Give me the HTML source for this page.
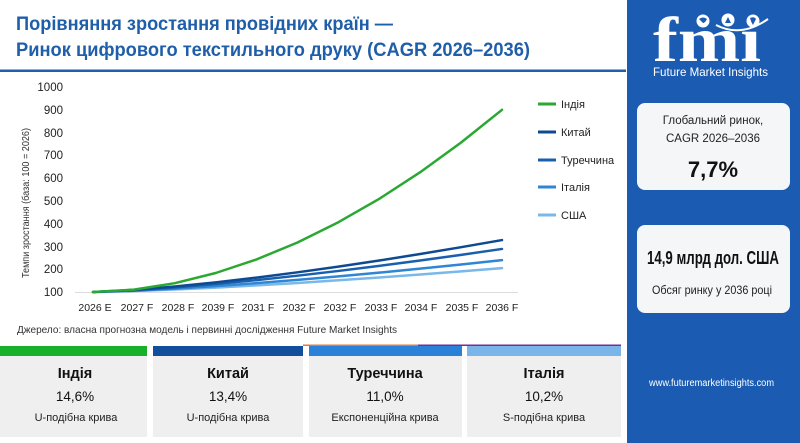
<!DOCTYPE html>
<html><head><meta charset="utf-8"><style>
html,body{margin:0;padding:0;background:#fff;}
svg{display:block;font-family:"Liberation Sans","DejaVu Sans",sans-serif;}
</style></head><body>
<svg width="800" height="443" viewBox="0 0 800 443" xmlns="http://www.w3.org/2000/svg">
<rect x="0" y="0" width="800" height="443" fill="#ffffff"/>
<!-- Title -->
<text x="16" y="30" font-size="19" font-weight="bold" fill="#1f5ea8" textLength="377" lengthAdjust="spacingAndGlyphs">Порівняння зростання провідних країн —</text>
<text x="16" y="56" font-size="19" font-weight="bold" fill="#1f5ea8" textLength="514" lengthAdjust="spacingAndGlyphs">Ринок цифрового текстильного друку (CAGR 2026–2036)</text>
<rect x="0" y="69.5" width="626" height="2.5" fill="#1f5ea8"/>

<!-- Y axis labels -->
<g font-size="11.5" fill="#222" text-anchor="end">
<text x="63" y="91">1000</text>
<text x="63" y="114">900</text>
<text x="63" y="137">800</text>
<text x="63" y="159">700</text>
<text x="63" y="182">600</text>
<text x="63" y="205">500</text>
<text x="63" y="228">400</text>
<text x="63" y="251">300</text>
<text x="63" y="273">200</text>
<text x="63" y="296">100</text>
</g>
<text transform="translate(29,203) rotate(-90)" font-size="10" fill="#333" text-anchor="middle" textLength="150" lengthAdjust="spacingAndGlyphs">Темпи зростання (база: 100 = 2026)</text>
<line x1="75" y1="292.5" x2="518" y2="292.5" stroke="#dcdcdc" stroke-width="1"/>

<!-- X labels -->
<g font-size="10.5" fill="#222" text-anchor="middle">
<text x="95" y="311">2026 E</text>
<text x="137" y="311">2027 F</text>
<text x="178" y="311">2028 F</text>
<text x="218" y="311">2039 F</text>
<text x="258" y="311">2031 F</text>
<text x="299" y="311">2032 F</text>
<text x="340" y="311">2032 F</text>
<text x="381" y="311">2033 F</text>
<text x="421" y="311">2034 F</text>
<text x="462" y="311">2035 F</text>
<text x="502" y="311">2036 F</text>
</g>

<!-- Series -->
<g fill="none" stroke-width="2.5" stroke-linejoin="round" stroke-linecap="round">
<polyline stroke="#7ab8ea" points="93,292 133.9,291.05 174.8,289.49 215.7,287.57 256.6,285.37 297.5,282.94 338.4,280.30 379.3,277.48 420.2,274.50 461.1,271.36 502,268.08"/>
<polyline stroke="#2f86d4" points="93,292 133.9,290.73 174.8,288.65 215.7,286.09 256.6,283.16 297.5,279.92 338.4,276.40 379.3,272.65 420.2,268.67 461.1,264.48 502,260.11"/>
<polyline stroke="#1a5fae" points="93,292 133.9,290.29 174.8,287.48 215.7,284.02 256.6,280.07 297.5,275.69 338.4,270.94 379.3,265.87 420.2,260.50 461.1,254.85 502,248.95"/>
<polyline stroke="#0e4a92" points="93,292 133.9,289.93 174.8,286.54 215.7,282.38 256.6,277.60 297.5,272.32 338.4,266.60 379.3,260.48 420.2,254.00 461.1,247.18 502,240.06"/>
<polyline stroke="#2aa832" points="93,292 133.9,289.6 174.8,283.2 215.7,273.0 256.6,259.4 297.5,242.5 338.4,222.2 379.3,198.8 420.2,172.2 461.1,142.5 502,109.8"/>
</g>

<!-- Legend -->
<g stroke-width="3">
<line x1="538" y1="104" x2="556" y2="104" stroke="#2aa832"/>
<line x1="538" y1="132" x2="556" y2="132" stroke="#0e4a92"/>
<line x1="538" y1="160" x2="556" y2="160" stroke="#1a5fae"/>
<line x1="538" y1="187" x2="556" y2="187" stroke="#2f86d4"/>
<line x1="538" y1="215" x2="556" y2="215" stroke="#7ab8ea"/>
</g>
<g font-size="11" fill="#222">
<text x="561" y="108">Індія</text>
<text x="561" y="136">Китай</text>
<text x="561" y="164">Туреччина</text>
<text x="561" y="191">Італія</text>
<text x="561" y="219">США</text>
</g>

<!-- Source -->
<text x="17" y="333" font-size="10.5" fill="#333" textLength="380" lengthAdjust="spacingAndGlyphs">Джерело: власна прогнозна модель і первинні дослідження Future Market Insights</text>

<!-- Cards -->
<rect x="303" y="344.5" width="115" height="1.5" fill="#e07a3a"/>
<rect x="418" y="344.5" width="203" height="1.5" fill="#7a2a9a"/>
<rect x="0" y="346" width="147" height="10" fill="#17b02a"/>
<rect x="153" y="346" width="150" height="10" fill="#0f4f9c"/>
<rect x="309" y="346" width="153" height="10" fill="#2a82d8"/>
<rect x="467" y="346" width="154" height="10" fill="#7ab5ea"/>
<g fill="#efefef">
<rect x="0" y="356" width="147" height="81"/>
<rect x="153" y="356" width="150" height="81"/>
<rect x="309" y="356" width="153" height="81"/>
<rect x="467" y="356" width="154" height="81"/>
</g>
<g text-anchor="middle" fill="#111">
<g font-size="14.5" font-weight="bold">
<text x="75" y="378">Індія</text>
<text x="228" y="378">Китай</text>
<text x="385" y="378">Туреччина</text>
<text x="544" y="378">Італія</text>
</g>
<g font-size="13.5">
<text x="75" y="401">14,6%</text>
<text x="228" y="401">13,4%</text>
<text x="385" y="401">11,0%</text>
<text x="544" y="401">10,2%</text>
</g>
<g font-size="11" fill="#222">
<text x="76" y="421">U-подібна крива</text>
<text x="228" y="421">U-подібна крива</text>
<text x="385" y="421">Експоненційна крива</text>
<text x="544" y="421">S-подібна крива</text>
</g>
</g>

<!-- Right panel -->
<rect x="627" y="0" width="173" height="443" fill="#1b5cb2"/>
<!-- logo -->
<text x="653" y="61" font-family="Liberation Serif, serif" font-size="64" font-weight="bold" fill="#fff" textLength="108" lengthAdjust="spacingAndGlyphs">fmı</text>
<path d="M716 25 Q741 38 768 19" fill="none" stroke="#fff" stroke-width="2"/>
<circle cx="703" cy="21" r="6.5" fill="#fff"/>
<circle cx="728" cy="20" r="6.5" fill="#fff"/>
<circle cx="753" cy="21" r="6.5" fill="#fff"/>
<path d="M699 19 q4 -3 8 0 q-2 4 -4 4 z" fill="#1b5cb2"/>
<path d="M725 23 l3 -6 l3 6 z" fill="#1b5cb2"/>
<path d="M750 18 q4 -2 6 1 q-2 4 -3 6 q-2 -3 -3 -7 z" fill="#1b5cb2"/>
<text x="653" y="76" font-size="12" fill="#fff" textLength="115" lengthAdjust="spacingAndGlyphs">Future Market Insights</text>

<!-- box 1 -->
<rect x="637" y="103" width="153" height="87" rx="8" fill="#f5f6f8"/>
<g text-anchor="middle" fill="#222">
<text x="713" y="124" font-size="11.5">Глобальний ринок,</text>
<text x="713" y="142" font-size="11.5">CAGR 2026–2036</text>
<text x="713" y="177" font-size="22" font-weight="bold" fill="#111">7,7%</text>
</g>
<!-- box 2 -->
<rect x="637" y="225" width="153" height="88" rx="8" fill="#f5f6f8"/>
<text x="647" y="264" font-size="18" font-weight="bold" fill="#111" textLength="132" lengthAdjust="spacingAndGlyphs">14,9 млрд дол. США</text>
<text x="652" y="294" font-size="11.5" fill="#222" textLength="120" lengthAdjust="spacingAndGlyphs">Обсяг ринку у 2036 році</text>

<text x="649" y="386" font-size="10" fill="#fff" textLength="125" lengthAdjust="spacingAndGlyphs">www.futuremarketinsights.com</text>
</svg>
</body></html>
